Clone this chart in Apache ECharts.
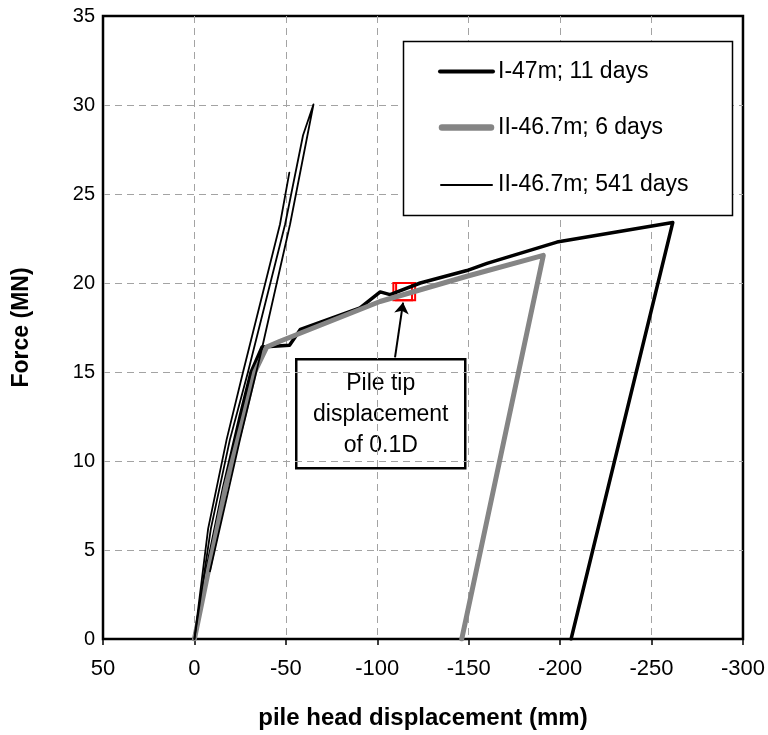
<!DOCTYPE html>
<html>
<head>
<meta charset="utf-8">
<script src="https://cdn.jsdelivr.net/npm/echarts@6/dist/echarts.min.js"></script>
<style>
  html, body { margin: 0; padding: 0; background: #ffffff; }
  #chart { width: 768px; height: 735px; }
</style>
</head>
<body>
<div id="chart"></div>
<script>
const FONT = '"Liberation Sans", Arial, Helvetica, sans-serif';

// Pile I (47 m), load test 11 days after installation
const pileI11Disp  = [0, -7, -16, -25, -31, -37, -52, -58, -79.6, -90.6, -101.6, -107, -123.5, -149, -160, -198.3, -261.6, -206];
const pileI11Force = [0, 4, 8.5, 12.5, 15, 16.4, 16.5, 17.4, 18.2, 18.6, 19.5, 19.35, 20.0, 20.7, 21.1, 22.3, 23.4, 0];

// Pile II (46.7 m), load test 6 days after installation
const pileII6Disp  = [0, -8, -17, -27, -33, -39.5, -46.8, -101.5, -149, -190.8, -146.2];
const pileII6Force = [0, 4, 8.5, 12.5, 15, 16.4, 16.73, 18.96, 20.38, 21.55, 0];

// Pile II (46.7 m), retest 541 days after installation: first load cycle
const pileII541aDisp  = [0, -7.5, -17.6, -26.6, -46.8, -51.9];
const pileII541aForce = [0, 6.2, 11.2, 15, 23.3, 26.2];

// Pile II (46.7 m), retest 541 days: second load cycle and unloading
const pileII541bDisp  = [0, -9, -19.4, -29.3, -49.6, -59.4, -65.1, -52.3, -36.8, -24.9, -8.5];
const pileII541bForce = [0, 6.2, 11.2, 15, 23.3, 28.3, 30.03, 23.3, 16.26, 11.2, 3.8];

// Point where the pile tip displacement reaches 0.1D
const tipMarkDisp  = [-108.8, -119.0];
const tipMarkDisp2 = [-110.3, -120.7];
const tipMarkForce = [19.03, 20.0];
const arrowFrom = [-109.7, 15.82];
const arrowTo   = [-114.1, 18.9];

const seriesNames = ['I-47m; 11 days', 'II-46.7m; 6 days', 'II-46.7m; 541 days'];
const xTicks = { min: -300, max: 50, step: 50 };
const yTicks = { min: 0, max: 35, step: 5 };

const BLACK = '#000000';
const GREY = '#858585';

const zip = (xs, ys) => xs.map((x, i) => [x, ys[i]]);

const chart = echarts.init(document.getElementById('chart'), null, { renderer: 'canvas' });

const dashed = { color: '#a3a3a3', type: [7, 5], width: 1 };

// Legend drawn as a framed key: line sample + label per series
const keyStyles = [
  { color: BLACK, width: 4, x1: 440, x2: 493 },
  { color: GREY, width: 6.5, x1: 442, x2: 491 },
  { color: BLACK, width: 2, x1: 441, x2: 492 }
];
const keyRows = [71.5, 127.5, 185];
const keyGraphics = [{
  type: 'rect',
  shape: { x: 403.5, y: 41.5, width: 329, height: 174 },
  style: { fill: '#fff', stroke: BLACK, lineWidth: 1.5 },
  z: 90
}];
seriesNames.forEach((name, i) => {
  const k = keyStyles[i];
  keyGraphics.push({
    type: 'line',
    shape: { x1: k.x1, y1: keyRows[i], x2: k.x2, y2: keyRows[i] },
    style: { stroke: k.color, lineWidth: k.width, lineCap: 'round' },
    z: 91
  });
  keyGraphics.push({
    type: 'text',
    x: 498, y: keyRows[i],
    style: { text: name, fontFamily: FONT, fontSize: 23, fill: BLACK, align: 'left', verticalAlign: 'middle' },
    z: 91
  });
});

chart.setOption({
  animation: false,
  backgroundColor: '#ffffff',
  textStyle: { fontFamily: FONT },
  grid: {
    left: 103, right: 25, top: 16, bottom: 95,
    show: true, borderColor: BLACK, borderWidth: 2.5, backgroundColor: 'transparent'
  },
  xAxis: {
    type: 'value',
    inverse: true,
    min: xTicks.min, max: xTicks.max, interval: xTicks.step,
    name: 'pile head displacement (mm)',
    nameLocation: 'middle',
    nameGap: 67,
    nameTextStyle: { fontFamily: FONT, fontSize: 24, fontWeight: 'bold', color: BLACK },
    axisLine: { show: true, onZero: false, lineStyle: { color: BLACK, width: 2 } },
    axisTick: { show: true, inside: false, length: 6, lineStyle: { color: BLACK, width: 1.5 } },
    axisLabel: { fontFamily: FONT, fontSize: 22, color: BLACK, margin: 19 },
    splitLine: { show: true, showMinLine: false, showMaxLine: false, lineStyle: dashed }
  },
  yAxis: {
    type: 'value',
    min: yTicks.min, max: yTicks.max, interval: yTicks.step,
    name: 'Force (MN)',
    nameLocation: 'middle',
    nameGap: 70,
    nameRotate: 90,
    nameTextStyle: { fontFamily: FONT, fontSize: 23, fontWeight: 'bold', color: BLACK },
    axisLine: { show: true, onZero: false, lineStyle: { color: BLACK, width: 2 } },
    axisTick: { show: false },
    axisLabel: { fontFamily: FONT, fontSize: 20, color: BLACK, margin: 8 },
    splitLine: { show: true, showMinLine: false, showMaxLine: false, lineStyle: dashed }
  },
  series: [
    {
      name: seriesNames[0],
      type: 'line',
      data: zip(pileI11Disp, pileI11Force),
      showSymbol: false, symbol: 'none',
      lineStyle: { color: BLACK, width: 3.5, cap: 'round', join: 'round' },
      itemStyle: { color: BLACK },
      z: 2
    },
    {
      name: seriesNames[1],
      type: 'line',
      data: zip(pileII6Disp, pileII6Force),
      showSymbol: false, symbol: 'none',
      lineStyle: { color: GREY, width: 5, cap: 'round', join: 'round' },
      itemStyle: { color: GREY },
      z: 3,
      markArea: {
        silent: true,
        itemStyle: { color: 'rgba(0,0,0,0)', borderColor: '#ff0000', borderWidth: 2 },
        label: { show: false },
        data: [
          [{ xAxis: tipMarkDisp[0], yAxis: tipMarkForce[0] }, { xAxis: tipMarkDisp[1], yAxis: tipMarkForce[1] }],
          [{ xAxis: tipMarkDisp2[0], yAxis: tipMarkForce[0] }, { xAxis: tipMarkDisp2[1], yAxis: tipMarkForce[1] }]
        ]
      },
      markLine: {
        silent: true,
        animation: false,
        label: { show: false },
        lineStyle: { color: BLACK, width: 2, type: 'solid' },
        symbolSize: 11,
        data: [[
          { coord: arrowFrom, symbol: 'none' },
          { coord: arrowTo, symbol: 'arrow' }
        ]]
      }
    },
    {
      name: seriesNames[2],
      type: 'line',
      data: zip(pileII541aDisp, pileII541aForce),
      showSymbol: false, symbol: 'none',
      lineStyle: { color: BLACK, width: 1.8, cap: 'round', join: 'round' },
      itemStyle: { color: BLACK },
      z: 4
    },
    {
      name: seriesNames[2],
      type: 'line',
      data: zip(pileII541bDisp, pileII541bForce),
      showSymbol: false, symbol: 'none',
      lineStyle: { color: BLACK, width: 1.8, cap: 'round', join: 'round' },
      itemStyle: { color: BLACK },
      z: 4
    }
  ],
  graphic: keyGraphics.concat([
    {
      type: 'group',
      left: 295, top: 358,
      z: 100,
      children: [
        {
          type: 'rect',
          shape: { x: 0, y: 0, width: 169, height: 109 },
          style: { fill: '#fff', stroke: BLACK, lineWidth: 2.5 }
        },
        {
          type: 'text',
          x: 84.5, y: 55,
          style: {
            text: 'Pile tip\ndisplacement\nof 0.1D',
            fontFamily: FONT, fontSize: 23, lineHeight: 31,
            fill: BLACK, align: 'center', verticalAlign: 'middle'
          }
        }
      ]
    }
  ])
});
</script>
</body>
</html>
